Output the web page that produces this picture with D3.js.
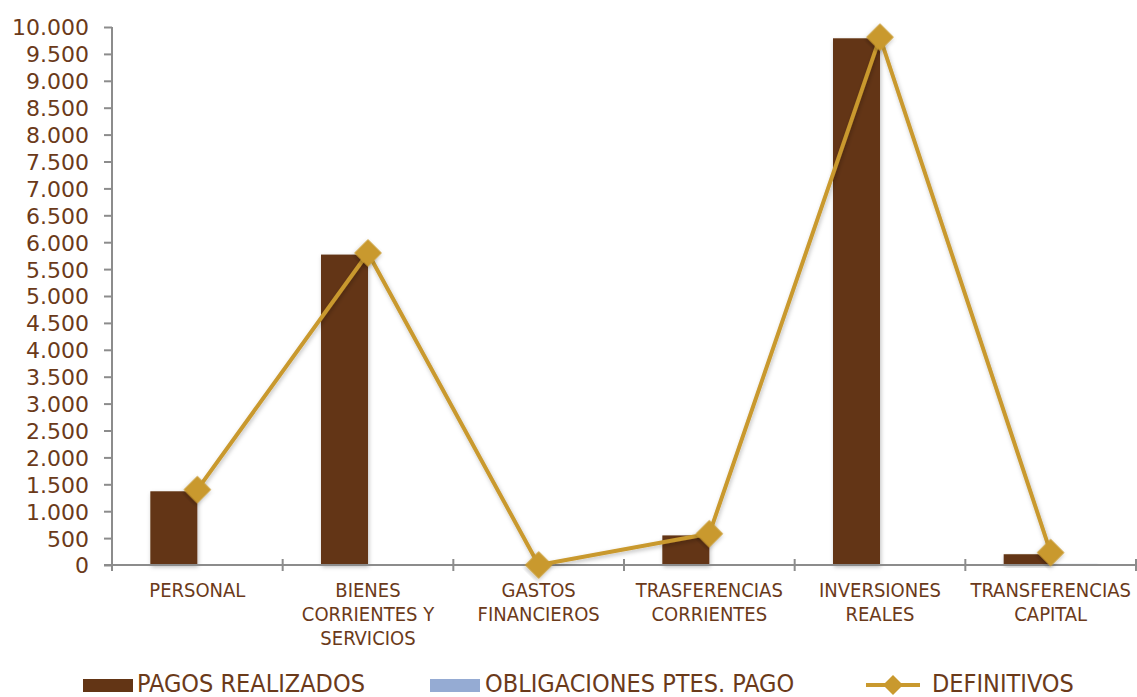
<!DOCTYPE html>
<html><head><meta charset="utf-8">
<script src="https://cdn.jsdelivr.net/npm/d3@7"></script>
<style>body{margin:0;background:#fff}svg{display:block}</style>
</head><body>
<svg id="c" width="1137" height="697"></svg>
<script>
const categories = [["PERSONAL"],["BIENES","CORRIENTES Y","SERVICIOS"],["GASTOS","FINANCIEROS"],["TRASFERENCIAS","CORRIENTES"],["INVERSIONES","REALES"],["TRANSFERENCIAS","CAPITAL"]];
const pagosRealizados = [1370, 5770, 0, 550, 9790, 200];
const obligacionesPtes = [0, 10, 0, 0, 5, 20];
const definitivos = [1400, 5800, 0, 580, 9810, 230];
const yTicks = [0,500,1000,1500,2000,2500,3000,3500,4000,4500,5000,5500,6000,6500,7000,7500,8000,8500,9000,9500,10000];
const seriesNames = ["PAGOS REALIZADOS","OBLIGACIONES PTES. PAGO","DEFINITIVOS"];

const cBar="#633515", cBlue="#95ABD3", cLine="#C9992E", cText="#6B3A1A", cAxis="#8C8C8C";
const svg=d3.select("#c");
const defs=svg.append("defs");
const f=defs.append("filter").attr("id","sh").attr("x","-30%").attr("y","-10%").attr("width","160%").attr("height","130%");
f.append("feDropShadow").attr("dx",1).attr("dy",2).attr("stdDeviation",2).attr("flood-color","#000").attr("flood-opacity",0.25);

const L=112,R=1136,T=27,B=565;
const x=d3.scaleBand().domain(d3.range(categories.length)).range([L,R]).paddingInner(0).paddingOuter(0);
const y=d3.scaleLinear().domain([0,10000]).range([B,T]);
const bw=47;

// bars
const g=svg.append("g");
g.selectAll("rect.p").data(pagosRealizados).join("rect").attr("class","p")
 .attr("x",(d,i)=>x(i)+x.bandwidth()/2-bw).attr("width",bw)
 .attr("y",d=>y(d)).attr("height",d=>B-y(d)).attr("fill",cBar).attr("filter","url(#sh)");
g.selectAll("rect.o").data(obligacionesPtes).join("rect").attr("class","o")
 .attr("x",(d,i)=>x(i)+x.bandwidth()/2).attr("width",bw)
 .attr("y",d=>y(d)).attr("height",d=>B-y(d)).attr("fill",cBlue).attr("filter","url(#sh)");

// axes
const ya=svg.append("g").attr("transform",`translate(${L},0)`)
 .call(d3.axisLeft(y).tickValues(yTicks).tickSize(8).tickSizeOuter(0).tickFormat(d=>d3.format(",")(d).replace(/,/g,".")));
ya.select(".domain").attr("stroke",cAxis).attr("stroke-width",2).attr("d",`M0,${T}V${B+6}`);
ya.selectAll(".tick line").attr("stroke",cAxis).attr("stroke-width",2);
ya.selectAll(".tick text").attr("fill",cText).attr("font-family","DejaVu Sans").attr("font-size",22).attr("x",-23).attr("dy","0.36em");

svg.append("line").attr("x1",L-8).attr("x2",R).attr("y1",B).attr("y2",B).attr("stroke",cAxis).attr("stroke-width",2);
svg.selectAll("line.ct").data(d3.range(categories.length+1)).join("line").attr("class","ct")
 .attr("x1",i=>i<categories.length?x(i):R).attr("x2",i=>i<categories.length?x(i):R)
 .attr("y1",B-6).attr("y2",B+6).attr("stroke",cAxis).attr("stroke-width",2);

// category labels
const cl=svg.selectAll("text.cat").data(categories).join("text").attr("class","cat")
 .attr("text-anchor","middle").attr("fill",cText).attr("font-family","Liberation Sans Narrow, DejaVu Sans Condensed, sans-serif").attr("font-size",20);
cl.each(function(lines,i){
  d3.select(this).selectAll("tspan").data(lines).join("tspan")
   .attr("x",x(i)+x.bandwidth()/2).attr("y",(d,j)=>597+j*24).text(d=>d);
});

// line + markers
const line=d3.line().x((d,i)=>x(i)+x.bandwidth()/2).y(d=>y(d));
svg.append("path").datum(definitivos).attr("d",line).attr("fill","none").attr("stroke",cLine).attr("stroke-width",4).attr("filter","url(#sh)");
const dsym=d3.symbol().type(d3.symbolSquare).size(380);
svg.selectAll("path.mk").data(definitivos).join("path").attr("class","mk")
 .attr("d",dsym).attr("transform",(d,i)=>`translate(${x(i)+x.bandwidth()/2},${y(d)}) rotate(45)`)
 .attr("fill",cLine).attr("filter","url(#sh)");

// legend
const lg=svg.append("g").attr("font-family","Liberation Sans Narrow, DejaVu Sans Condensed, sans-serif").attr("font-size",25).attr("fill",cText);
lg.append("rect").attr("x",83).attr("y",679).attr("width",50).attr("height",13).attr("fill",cBar);
lg.append("text").attr("x",137).attr("y",692).text(seriesNames[0]);
lg.append("rect").attr("x",430).attr("y",679).attr("width",50).attr("height",13).attr("fill",cBlue);
lg.append("text").attr("x",485).attr("y",692).text(seriesNames[1]);
lg.append("line").attr("x1",866).attr("x2",920).attr("y1",685).attr("y2",685).attr("stroke",cLine).attr("stroke-width",4);
lg.append("path").attr("d",d3.symbol().type(d3.symbolSquare).size(200)).attr("transform","translate(893,685) rotate(45)").attr("fill",cLine);
lg.append("text").attr("x",932).attr("y",692).text(seriesNames[2]);
</script>
</body></html>
